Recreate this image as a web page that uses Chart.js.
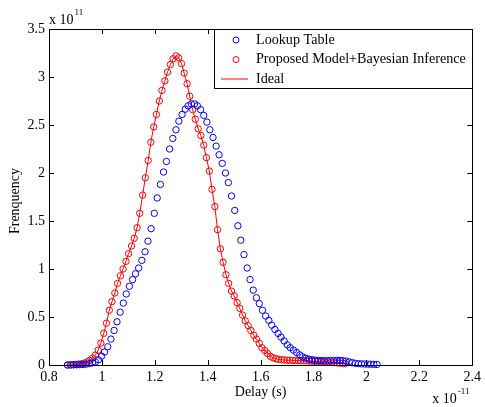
<!DOCTYPE html>
<html>
<head>
<meta charset="utf-8">
<script src="https://cdn.jsdelivr.net/npm/chart.js@4/dist/chart.umd.min.js"></script>
<style>
  body { margin: 0; background: #fff; }
  #Chart { display: block; }
</style>
</head>
<body>
<canvas id="Chart" width="485" height="407"></canvas>
<script>
// delay bins (x 1e-11 s) and frequencies (x 1e11)
const redX = [
  0.870, 0.881, 0.891, 0.902, 0.912, 0.923, 0.933, 0.944, 0.954, 0.965,
  0.975, 0.986, 0.996, 1.007, 1.017, 1.028, 1.038, 1.049, 1.059, 1.070,
  1.080, 1.091, 1.101, 1.112, 1.122, 1.133, 1.143, 1.154, 1.164, 1.175,
  1.185, 1.196, 1.206, 1.217, 1.227, 1.238, 1.248, 1.259, 1.269, 1.280,
  1.290, 1.301, 1.311, 1.322, 1.332, 1.343, 1.353, 1.364, 1.374, 1.385,
  1.395, 1.406, 1.416, 1.427, 1.437, 1.448, 1.458, 1.469, 1.479, 1.490,
  1.500, 1.511, 1.521, 1.532, 1.542, 1.553, 1.563, 1.574, 1.584, 1.595,
  1.605, 1.616, 1.626, 1.637, 1.647, 1.658, 1.668, 1.679, 1.689, 1.700,
  1.710, 1.721, 1.731, 1.742, 1.752, 1.763, 1.773, 1.784, 1.794, 1.805,
  1.815, 1.826, 1.836, 1.847, 1.857, 1.868, 1.878, 1.889, 1.899, 1.910,
  1.920
];
const redY = [
  0.000, 0.002, 0.004, 0.006, 0.009, 0.013, 0.020, 0.032, 0.048, 0.072,
  0.102, 0.155, 0.228, 0.330, 0.435, 0.570, 0.660, 0.750, 0.850, 0.930,
  1.000, 1.080, 1.160, 1.240, 1.320, 1.430, 1.580, 1.770, 1.950, 2.130,
  2.320, 2.480, 2.610, 2.750, 2.860, 2.960, 3.050, 3.130, 3.190, 3.220,
  3.200, 3.140, 3.040, 2.930, 2.800, 2.660, 2.560, 2.460, 2.390, 2.290,
  2.160, 2.020, 1.830, 1.650, 1.410, 1.210, 1.070, 0.940, 0.850, 0.770,
  0.720, 0.650, 0.590, 0.520, 0.460, 0.410, 0.360, 0.310, 0.270, 0.225,
  0.180, 0.150, 0.120, 0.090, 0.075, 0.065, 0.058, 0.055, 0.052, 0.050,
  0.050, 0.048, 0.047, 0.046, 0.045, 0.044, 0.043, 0.042, 0.040, 0.040,
  0.038, 0.036, 0.034, 0.032, 0.030, 0.028, 0.025, 0.022, 0.020, 0.018,
  0.015
];
const blueX = [
  0.870, 0.882, 0.893, 0.905, 0.917, 0.929, 0.940, 0.952, 0.964, 0.975,
  0.987, 0.999, 1.010, 1.022, 1.034, 1.046, 1.057, 1.069, 1.081, 1.092,
  1.104, 1.116, 1.127, 1.139, 1.151, 1.163, 1.174, 1.186, 1.198, 1.209,
  1.221, 1.233, 1.244, 1.256, 1.268, 1.280, 1.291, 1.303, 1.315, 1.326,
  1.338, 1.350, 1.361, 1.373, 1.385, 1.397, 1.408, 1.420, 1.432, 1.443,
  1.455, 1.467, 1.478, 1.490, 1.502, 1.514, 1.525, 1.537, 1.549, 1.560,
  1.572, 1.584, 1.595, 1.607, 1.619, 1.631, 1.642, 1.654, 1.666, 1.677,
  1.689, 1.701, 1.712, 1.724, 1.736, 1.748, 1.759, 1.771, 1.783, 1.794,
  1.806, 1.818, 1.829, 1.841, 1.853, 1.864, 1.876, 1.888, 1.900, 1.911,
  1.923, 1.935, 1.946, 1.958, 1.970, 1.981, 1.993, 2.005, 2.016, 2.028,
  2.040
];
const blueY = [
  0.000, 0.000, 0.002, 0.003, 0.004, 0.006, 0.009, 0.014, 0.022, 0.032,
  0.055, 0.092, 0.135, 0.190, 0.270, 0.360, 0.450, 0.550, 0.645, 0.740,
  0.820, 0.890, 0.950, 1.010, 1.090, 1.180, 1.290, 1.420, 1.580, 1.740,
  1.880, 2.010, 2.120, 2.250, 2.360, 2.450, 2.540, 2.610, 2.665, 2.700,
  2.720, 2.720, 2.700, 2.660, 2.600, 2.530, 2.450, 2.370, 2.280, 2.190,
  2.100, 2.000, 1.900, 1.760, 1.610, 1.450, 1.300, 1.150, 1.010, 0.890,
  0.780, 0.700, 0.640, 0.570, 0.510, 0.465, 0.415, 0.370, 0.330, 0.290,
  0.250, 0.210, 0.180, 0.155, 0.130, 0.105, 0.085, 0.070, 0.060, 0.055,
  0.050, 0.048, 0.047, 0.046, 0.046, 0.047, 0.048, 0.048, 0.047, 0.045,
  0.040, 0.032, 0.024, 0.018, 0.014, 0.012, 0.010, 0.009, 0.008, 0.007,
  0.006
];

const serif = '"Liberation Serif", "Times New Roman", serif';

function pts(xs, ys) {
  return xs.map((x, i) => ({ x: x, y: ys[i] }));
}

// matlab-like box: frame, inward ticks, exponents, axis labels, legend
const framePlugin = {
  id: 'frame',
  afterDraw(chart) {
    const ctx = chart.ctx;
    const a = chart.chartArea;
    const xs = chart.scales.x, ys = chart.scales.y;
    const tl = 5;
    ctx.save();
    ctx.strokeStyle = '#000';
    ctx.lineWidth = 1;
    ctx.strokeRect(Math.round(a.left) + 0.5, Math.round(a.top) + 0.5,
      Math.round(a.right - a.left), Math.round(a.bottom - a.top));
    ctx.beginPath();
    xs.ticks.forEach(t => {
      const px = Math.round(xs.getPixelForValue(t.value)) + 0.5;
      ctx.moveTo(px, a.bottom); ctx.lineTo(px, a.bottom - tl);
      ctx.moveTo(px, a.top); ctx.lineTo(px, a.top + tl);
    });
    ys.ticks.forEach(t => {
      const py = Math.round(ys.getPixelForValue(t.value)) + 0.5;
      ctx.moveTo(a.left, py); ctx.lineTo(a.left + tl, py);
      ctx.moveTo(a.right, py); ctx.lineTo(a.right - tl, py);
    });
    ctx.stroke();

    // exponent labels
    ctx.fillStyle = '#000';
    ctx.textBaseline = 'alphabetic';
    ctx.textAlign = 'left';
    ctx.font = '14px ' + serif;
    ctx.fillText('x 10', a.left, a.top - 5);
    let w = ctx.measureText('x 10').width;
    ctx.font = '9px ' + serif;
    ctx.fillText('11', a.left + w + 1, a.top - 14);
    ctx.font = '14px ' + serif;
    ctx.fillText('x 10', a.right - 40, a.bottom + 38);
    w = ctx.measureText('x 10').width;
    ctx.font = '9px ' + serif;
    ctx.fillText('-11', a.right - 40 + w + 1, a.bottom + 29);

    // axis titles
    ctx.font = '14px ' + serif;
    ctx.textAlign = 'center';
    ctx.textBaseline = 'middle';
    ctx.fillText('Delay (s)', (a.left + a.right) / 2, a.bottom + 27);
    ctx.save();
    ctx.translate(15, (a.top + a.bottom) / 2 + 4);
    ctx.rotate(-Math.PI / 2);
    ctx.fillText('Frenquency', 0, 0);
    ctx.restore();

    // legend
    const bw = 258, bh = 59;
    const bx = Math.round(a.right) - bw, by = Math.round(a.top);
    ctx.fillStyle = '#fff';
    ctx.fillRect(bx, by, bw, bh);
    ctx.strokeStyle = '#000';
    ctx.strokeRect(bx + 0.5, by + 0.5, bw, bh);
    // size the legend text so the longest label fits the box
    const longest = chart.data.datasets.reduce((m, d) => d.label.length > m.length ? d.label : m, '');
    ctx.font = '14px ' + serif;
    const fs = Math.min(15, 14 * 210 / ctx.measureText(longest).width);
    ctx.font = fs.toFixed(2) + 'px ' + serif;
    ctx.textAlign = 'left';
    ctx.textBaseline = 'middle';
    chart.data.datasets.forEach((ds, i) => {
      const cy = by + 11 + i * 19.5;
      ctx.strokeStyle = ds.borderColor;
      ctx.lineWidth = 1;
      if (ds.showLine) {
        ctx.beginPath();
        ctx.moveTo(bx + 7, cy); ctx.lineTo(bx + 34, cy);
        ctx.stroke();
      } else {
        ctx.beginPath();
        ctx.arc(bx + 22, cy, 3, 0, Math.PI * 2);
        ctx.stroke();
      }
      ctx.fillStyle = '#000';
      ctx.fillText(ds.label, bx + 42, cy);
    });
    ctx.restore();
  }
};

const data = {
  datasets: [
    {
      label: 'Lookup Table',
      data: pts(blueX, blueY),
      borderColor: '#0000ff',
      backgroundColor: 'rgba(0,0,0,0)',
      pointRadius: 3.2,
      borderWidth: 1,
      showLine: false,
      clip: false
    },
    {
      label: 'Proposed Model+Bayesian Inference',
      data: pts(redX, redY),
      borderColor: '#ff0000',
      backgroundColor: 'rgba(0,0,0,0)',
      pointRadius: 3.2,
      borderWidth: 1,
      showLine: false,
      clip: false
    },
    {
      label: 'Ideal',
      data: pts(redX, redY),
      borderColor: '#ff0000',
      backgroundColor: 'rgba(0,0,0,0)',
      pointRadius: 0,
      borderWidth: 1,
      showLine: true,
      tension: 0,
      clip: false
    }
  ]
};

const config = {
  type: 'scatter',
  data: data,
  options: {
    responsive: false,
    animation: false,
    layout: { padding: { top: 29, right: 8, left: 0, bottom: 0 } },
    plugins: { legend: { display: false }, tooltip: { enabled: false } },
    scales: {
      x: {
        type: 'linear',
        min: 0.8, max: 2.4,
        grid: { display: false, drawTicks: false },
        border: { display: false },
        afterFit(s) { s.height = 42; },
        ticks: {
          stepSize: 0.2,
          padding: 4,
          color: '#000',
          font: { family: serif, size: 14 },
          callback: v => String(Number(v.toFixed(1)))
        }
      },
      y: {
        type: 'linear',
        min: 0, max: 3.5,
        grid: { display: false, drawTicks: false },
        border: { display: false },
        afterFit(s) { s.width = 49; },
        ticks: {
          stepSize: 0.5,
          padding: 4,
          color: '#000',
          font: { family: serif, size: 14 },
          callback: v => String(Number(v.toFixed(1)))
        }
      }
    }
  },
  plugins: [framePlugin]
};

var myChart = new Chart(document.getElementById('Chart'), config);
</script>
</body>
</html>
